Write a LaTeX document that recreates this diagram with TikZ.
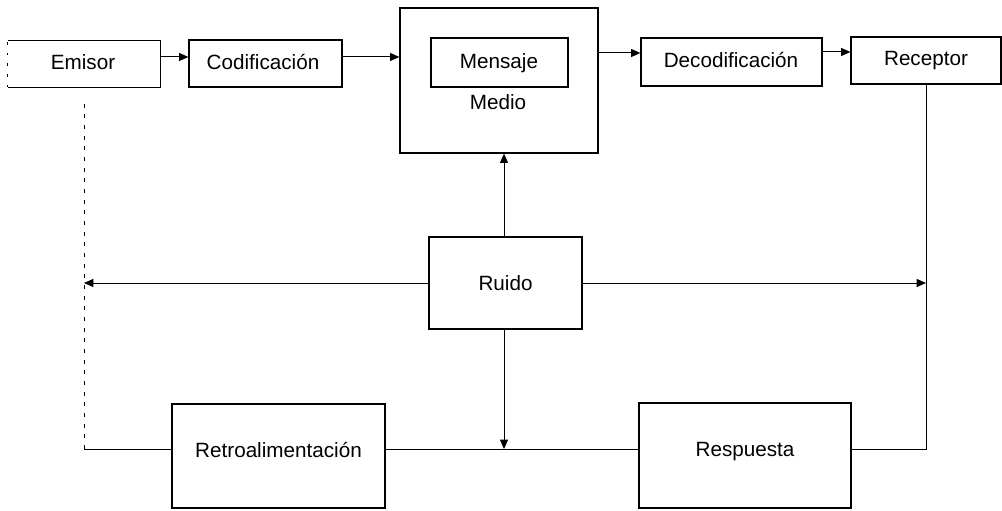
\documentclass[tikz,border=0pt]{standalone}
\usepackage{fontspec}
\setmainfont{Liberation Sans}
\usetikzlibrary{arrows.meta}
\begin{document}
\begin{tikzpicture}[x=0.75pt,y=-0.75pt,
  box/.style={draw, line width=0.9pt, inner sep=0pt, rectangle},
  plain/.style={inner sep=0pt, rectangle},
  lbl/.style={inner sep=0pt, text height=11pt, text depth=0pt, font=\fontsize{15.5pt}{18pt}\selectfont},
  link/.style={line width=0.75pt},
  arrow/.style={link, -{Triangle[length=7pt,width=6pt]}},
  trace/.style={line width=0.75pt, dash pattern=on 3pt off 5pt}
]
\useasboundingbox (0,0) rectangle (1002,510);

% row levels of the connectors
\coordinate (r1) at (0,57);
\coordinate (r2) at (0,53);
\coordinate (r3) at (0,52);
\coordinate (fb) at (0,449);

% top row
\node[plain, minimum width=114pt, minimum height=34.5pt] (emisor) at (84,64) {};
\node[lbl] at (83,62) {Emisor};
\draw[line width=0.9pt] (emisor.north west) -- (emisor.north east) -- (emisor.south east) -- (emisor.south west);
\draw[line width=0.6pt, dash pattern=on 2pt off 6pt] (emisor.south west) -- (emisor.north west);

\node[box, minimum width=114.75pt, minimum height=35.25pt] (codif) at (265.5,63.5) {};
\node[lbl] at (263,62) {Codificación};

\node[box, minimum width=148.5pt, minimum height=108.75pt] (medio) at (499,80.5) {};
\node[box, minimum width=102.75pt, minimum height=36.75pt] (mensaje) at (499.5,62.5) {};
\node[lbl] at (499,61) {Mensaje};
\node[lbl] (mediotxt) at (498,102) {Medio};

\node[box, minimum width=135.75pt, minimum height=36pt] (decod) at (731.5,62) {};
\node[lbl] at (731,60) {Decodificación};

\node[box, minimum width=112.5pt, minimum height=35.25pt] (receptor) at (926,60.5) {};
\node[lbl] at (926,58) {Receptor};

% middle
\node[box, minimum width=114.75pt, minimum height=69pt] (ruido) at (505.5,283) {};
\node[lbl] at (505.5,283) {Ruido};

% bottom row
\node[box, minimum width=159.75pt, minimum height=78pt] (retro) at (278.5,456) {};
\node[lbl] (retrotxt) at (278.5,450) {Retroalimentación};
\node[box, minimum width=159pt, minimum height=78.75pt] (resp) at (745,455.5) {};
\node[lbl] (resptxt) at (745,449) {Respuesta};

% forward chain
\draw[arrow] (emisor.east |- r1) -- (codif.west |- r1);
\draw[arrow] (codif.east |- r1) -- (medio.west |- r1);
\draw[arrow] (medio.east |- r2) -- (decod.west |- r2);
\draw[arrow] (decod.east |- r3) -- (receptor.west |- r3);

% noise
\draw[arrow] (ruido.north -| 504,0) -- (medio.south -| 504,0);
\draw[arrow] (ruido.west) -- (emisor.south |- ruido.west);
\draw[arrow] (ruido.east) -- (receptor.south |- ruido.east);
\draw[arrow] (ruido.south -| 504,0) -- (fb -| 504,0);

% feedback loop
\draw[link] (receptor.south) -- (receptor.south |- fb) -- (resp.east |- fb);
\draw[link] (resp.west |- fb) -- (retro.east |- fb);
\draw[link] (retro.west |- fb) -- (emisor.south |- fb);
\draw[trace] (emisor.south |- fb) -- ([yshift=-10pt]emisor.south);
\end{tikzpicture}
\end{document}
